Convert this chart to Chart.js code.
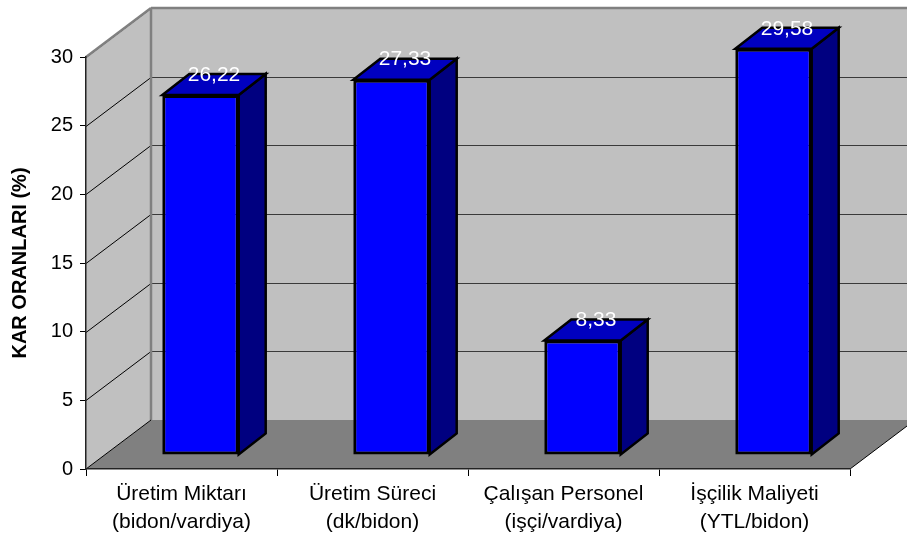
<!DOCTYPE html>
<html>
<head>
<meta charset="utf-8">
<script src="https://cdn.jsdelivr.net/npm/chart.js@4.4.1/dist/chart.umd.min.js"></script>
<style>
body { margin: 0; background: #fff; }
</style>
</head>
<body>
<canvas id="myChart" width="907" height="536"></canvas>
<script>
'use strict';

let categories = [
    ['Üretim Miktarı', '(bidon/vardiya)'],
    ['Üretim Süreci', '(dk/bidon)'],
    ['Çalışan Personel', '(işçi/vardiya)'],
    ['İşçilik Maliyeti', '(YTL/bidon)']
];
let karOranlari = [26.22, 27.33, 8.33, 29.58];
let yTicks = [0, 5, 10, 15, 20, 25, 30];

// 3d depth of the walls, of the bar placement and of the bars themselves
let wallX = 65, wallY = 49;
let shiftX = 19, shiftY = 14;
let depthX = 27, depthY = 21;

let fontName = '"Liberation Sans", Arial, sans-serif';

function line(ctx, x1, y1, x2, y2) {
    ctx.beginPath();
    ctx.moveTo(x1, y1);
    ctx.lineTo(x2, y2);
    ctx.stroke();
}

let walls = {
    id: 'walls',
    beforeDraw(chart) {
        let ctx = chart.ctx;
        let a = chart.chartArea;
        let yScale = chart.scales.y;
        ctx.save();

        // back wall
        ctx.fillStyle = '#c0c0c0';
        ctx.fillRect(a.left + wallX, a.top - wallY, a.right - a.left + 20, a.bottom - a.top);

        // side wall
        ctx.beginPath();
        ctx.moveTo(a.left, a.top);
        ctx.lineTo(a.left + wallX, a.top - wallY);
        ctx.lineTo(a.left + wallX, a.bottom - wallY);
        ctx.lineTo(a.left, a.bottom);
        ctx.closePath();
        ctx.fill();

        // floor
        ctx.fillStyle = '#808080';
        ctx.beginPath();
        ctx.moveTo(a.left, a.bottom);
        ctx.lineTo(a.right, a.bottom);
        ctx.lineTo(a.right + wallX, a.bottom - wallY);
        ctx.lineTo(a.left + wallX, a.bottom - wallY);
        ctx.closePath();
        ctx.fill();

        // grid lines on the walls
        for (let i = 0; i < yTicks.length; i++) {
            if (yTicks[i] === 0) continue;
            let py = Math.round(yScale.getPixelForValue(yTicks[i])) + 0.5;
            ctx.lineWidth = 1.2;
            ctx.strokeStyle = '#3a3a3a';
            line(ctx, a.left + wallX, py - wallY, a.right + wallX + 20, py - wallY);
            ctx.strokeStyle = '#000';
            ctx.lineWidth = 1;
            line(ctx, a.left, py, a.left + wallX, py - wallY);
        }

        // wall edges
        ctx.strokeStyle = '#808080';
        ctx.lineWidth = 2.5;
        line(ctx, a.left + wallX, a.top - wallY, a.right + wallX + 20, a.top - wallY);
        line(ctx, a.left, a.top, a.left + wallX, a.top - wallY);
        line(ctx, a.left + wallX, a.top - wallY, a.left + wallX, a.bottom - wallY);
        ctx.strokeStyle = '#000';
        ctx.lineWidth = 1;
        line(ctx, a.left, a.bottom, a.left + wallX, a.bottom - wallY);
        line(ctx, a.right, a.bottom, a.right + wallX, a.bottom - wallY);

        ctx.restore();
    }
};

let bars3d = {
    id: 'bars3d',
    beforeDatasetsDraw(chart) {
        chart.ctx.save();
        chart.ctx.translate(shiftX, -shiftY);
    },
    afterDatasetsDraw(chart) {
        let ctx = chart.ctx;
        let meta = chart.getDatasetMeta(0);
        ctx.lineJoin = 'miter';
        meta.data.forEach((bar, i) => {
            let p = bar.getProps(['x', 'y', 'base', 'width'], true);
            let l = p.x - p.width / 2;
            let r = p.x + p.width / 2;

            // side
            ctx.fillStyle = '#000080';
            ctx.strokeStyle = '#000';
            ctx.lineWidth = 2.5;
            ctx.beginPath();
            ctx.moveTo(r, p.y);
            ctx.lineTo(r + depthX, p.y - depthY);
            ctx.lineTo(r + depthX, p.base - depthY);
            ctx.lineTo(r, p.base);
            ctx.closePath();
            ctx.fill();
            ctx.stroke();

            // top
            ctx.fillStyle = '#0000c0';
            ctx.beginPath();
            ctx.moveTo(l, p.y);
            ctx.lineTo(l + depthX, p.y - depthY);
            ctx.lineTo(r + depthX, p.y - depthY);
            ctx.lineTo(r, p.y);
            ctx.closePath();
            ctx.fill();
            ctx.stroke();

            // value label
            ctx.fillStyle = '#fff';
            ctx.font = '21px ' + fontName;
            ctx.textAlign = 'center';
            ctx.textBaseline = 'middle';
            ctx.fillText(karOranlari[i].toFixed(2).replace('.', ','), p.x + depthX / 2, p.y - depthY + 1);
        });
        ctx.restore();
    }
};

let ctx = document.getElementById('myChart').getContext('2d');
let myChart = new Chart(ctx, {
    type: 'bar',
    data: {
        labels: categories,
        datasets: [{
            label: 'KAR ORANLARI (%)',
            data: karOranlari,
            backgroundColor: '#0000ff',
            borderColor: '#000',
            borderWidth: 3,
            borderSkipped: false,
            barPercentage: 0.4,
            categoryPercentage: 1,
            clip: false
        }]
    },
    plugins: [walls, bars3d],
    options: {
        responsive: false,
        animation: false,
        layout: { padding: { top: 57, right: 57, left: 0, bottom: 0 } },
        plugins: {
            legend: { display: false },
            tooltip: { enabled: false }
        },
        scales: {
            x: {
                afterFit: s => { s.height = 67; },
                grid: { drawOnChartArea: false, drawTicks: true, tickLength: 7, color: '#000', offset: true },
                border: { color: '#222', width: 1.5 },
                ticks: {
                    color: '#000',
                    padding: 4,
                    maxRotation: 0,
                    autoSkip: false,
                    font: { family: fontName, size: 21, lineHeight: 1.35 }
                }
            },
            y: {
                min: 0,
                max: 30,
                afterFit: s => { s.width = 86; },
                afterBuildTicks: s => { s.ticks = yTicks.map(v => ({ value: v })); },
                grid: { drawOnChartArea: false, drawTicks: true, tickLength: 6, color: '#000' },
                border: { color: '#222', width: 1.5 },
                ticks: {
                    color: '#000',
                    padding: 7,
                    font: { family: fontName, size: 20 }
                },
                title: {
                    display: true,
                    text: 'KAR ORANLARI (%)',
                    color: '#000',
                    padding: { top: 8, bottom: 0 },
                    font: { family: fontName, size: 20, weight: 'bold' }
                }
            }
        }
    }
});
</script>
</body>
</html>
